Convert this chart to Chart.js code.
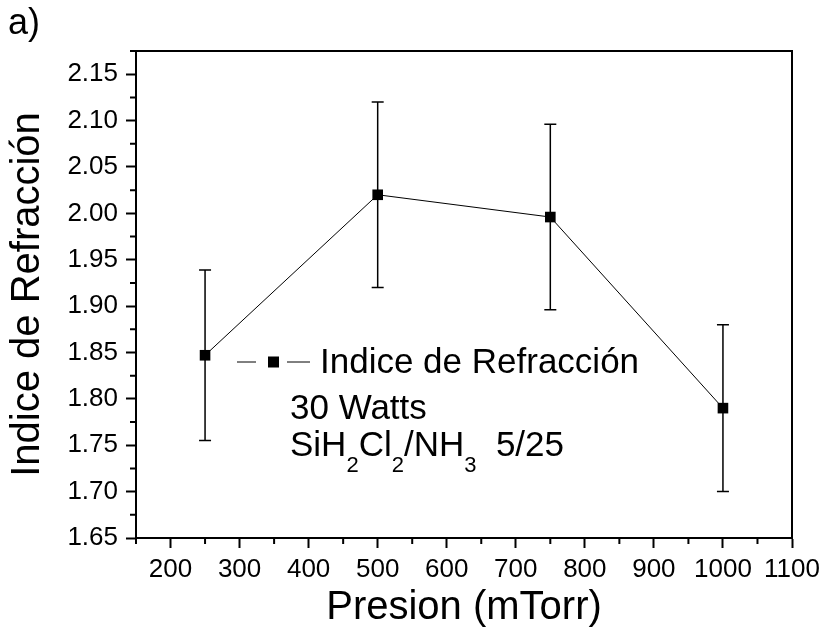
<!DOCTYPE html>
<html>
<head>
<meta charset="utf-8">
<script src="https://cdn.jsdelivr.net/npm/chart.js@4.4.0/dist/chart.umd.min.js"></script>
<style>
  body { margin: 0; background: #fff; }
  canvas { display: block; }
</style>
</head>
<body>
<canvas id="grafica" width="827" height="640"></canvas>
<script>
// datos
const presion = [250, 500, 750, 1000];
const indice = [1.847, 2.020, 1.996, 1.790];
const errorIndice = [0.092, 0.100, 0.100, 0.090];

const xMayores = [200, 300, 400, 500, 600, 700, 800, 900, 1000, 1100];
const xMenores = [150, 250, 350, 450, 550, 650, 750, 850, 950, 1050];
const yMayores = [1.65, 1.70, 1.75, 1.80, 1.85, 1.90, 1.95, 2.00, 2.05, 2.10, 2.15];
const yMenores = [1.675, 1.725, 1.775, 1.825, 1.875, 1.925, 1.975, 2.025, 2.075, 2.125, 2.175];

const etiquetaSerie = 'Indice de Refracción';
const notaPotencia = '30 Watts';
// [texto, es subindice]
const notaGases = [['SiH', false], ['2', true], ['Cl', false], ['2', true], ['/NH', false], ['3', true], ['  5/25', false]];
const letraPanel = 'a)';

const fuente = "'Liberation Sans', Arial, Helvetica, sans-serif";
Chart.defaults.font.family = fuente;
Chart.defaults.color = '#000';

const extras = {
    id: 'extras',
    beforeDatasetsDraw(chart) {
        // barras de error
        const ctx = chart.ctx;
        const sx = chart.scales.x, sy = chart.scales.y;
        ctx.save();
        ctx.strokeStyle = '#000';
        ctx.lineWidth = 1.5;
        presion.forEach((p, i) => {
            const px = sx.getPixelForValue(p);
            const top = sy.getPixelForValue(indice[i] + errorIndice[i]);
            const bot = sy.getPixelForValue(indice[i] - errorIndice[i]);
            ctx.beginPath();
            ctx.moveTo(px, top); ctx.lineTo(px, bot);
            ctx.moveTo(px - 6, top); ctx.lineTo(px + 6, top);
            ctx.moveTo(px - 6, bot); ctx.lineTo(px + 6, bot);
            ctx.stroke();
        });
        ctx.restore();
    },
    afterDraw(chart) {
        const ctx = chart.ctx;
        const a = chart.chartArea;
        const sx = chart.scales.x, sy = chart.scales.y;
        ctx.save();
        ctx.strokeStyle = '#000';
        ctx.lineWidth = 2;
        // marco superior y derecho
        ctx.beginPath();
        ctx.moveTo(a.left - 1, a.top);
        ctx.lineTo(a.right, a.top);
        ctx.lineTo(a.right, a.bottom + 1);
        ctx.stroke();
        // marcas menores
        ctx.beginPath();
        xMenores.forEach(v => {
            const px = sx.getPixelForValue(v);
            ctx.moveTo(px, a.bottom); ctx.lineTo(px, a.bottom + 6);
        });
        yMenores.forEach(v => {
            const py = sy.getPixelForValue(v);
            ctx.moveTo(a.left - 6, py); ctx.lineTo(a.left, py);
        });
        ctx.stroke();

        // leyenda: linea cortada, cuadro, linea
        const ly = a.top + 311;
        const lx = a.left + 101;
        ctx.lineWidth = 1;
        ctx.beginPath();
        ctx.moveTo(lx, ly); ctx.lineTo(lx + 19, ly);
        ctx.moveTo(lx + 50, ly); ctx.lineTo(lx + 73, ly);
        ctx.stroke();
        ctx.fillStyle = '#000';
        ctx.fillRect(lx + 31, ly - 5.5, 11, 11);

        ctx.font = '35px ' + fuente;
        ctx.textBaseline = 'middle';
        ctx.fillText(etiquetaSerie, lx + 83, ly + 1);
        ctx.textBaseline = 'alphabetic';
        const tx = a.left + 154;
        ctx.fillText(notaPotencia, tx, a.top + 368);
        let x = tx;
        notaGases.forEach(([t, sub]) => {
            ctx.font = (sub ? '22px ' : '35px ') + fuente;
            ctx.fillText(t, x, a.top + 405 + (sub ? 16 : 0));
            x += ctx.measureText(t).width;
        });

        // letra del panel
        ctx.font = '36px ' + fuente;
        ctx.fillText(letraPanel, 8, 34);
        ctx.restore();
    }
};

new Chart(document.getElementById('grafica'), {
    type: 'line',
    data: {
        datasets: [{
            label: etiquetaSerie,
            data: presion.map((p, i) => ({ x: p, y: indice[i] })),
            borderColor: '#000',
            borderWidth: 1,
            backgroundColor: '#000',
            pointStyle: 'rect',
            pointRadius: 7.5,
            pointBorderWidth: 0,
            pointBackgroundColor: '#000',
            tension: 0,
            fill: false
        }]
    },
    options: {
        responsive: false,
        animation: false,
        layout: { padding: { top: 51, right: 35, left: 0, bottom: 0 } },
        plugins: {
            legend: { display: false },
            tooltip: { enabled: false }
        },
        scales: {
            x: {
                type: 'linear',
                min: 150,
                max: 1100,
                afterBuildTicks: s => { s.ticks = xMayores.map(v => ({ value: v })); },
                afterFit: s => { s.height = 102; },
                ticks: {
                    font: { size: 26 },
                    color: '#000',
                    padding: 6,
                    maxRotation: 0,
                    autoSkip: false,
                    callback: v => String(v)
                },
                grid: { drawOnChartArea: false, tickLength: 10, tickColor: '#000', tickWidth: 2 },
                border: { color: '#000', width: 2 },
                title: {
                    display: true,
                    text: 'Presion (mTorr)',
                    font: { size: 40 },
                    color: '#000',
                    padding: { top: 0, bottom: 8 }
                }
            },
            y: {
                min: 1.65,
                max: 2.175,
                afterBuildTicks: s => { s.ticks = yMayores.map(v => ({ value: v })); },
                afterFit: s => { s.width = 136; },
                ticks: {
                    font: { size: 26 },
                    color: '#000',
                    padding: 8,
                    autoSkip: false,
                    callback: v => v.toFixed(2)
                },
                grid: { drawOnChartArea: false, tickLength: 10, tickColor: '#000', tickWidth: 2 },
                border: { color: '#000', width: 2 },
                title: {
                    display: true,
                    text: 'Indice de Refracción',
                    font: { size: 40 },
                    color: '#000',
                    padding: { top: 4, bottom: 0 }
                }
            }
        }
    },
    plugins: [extras]
});
</script>
</body>
</html>
